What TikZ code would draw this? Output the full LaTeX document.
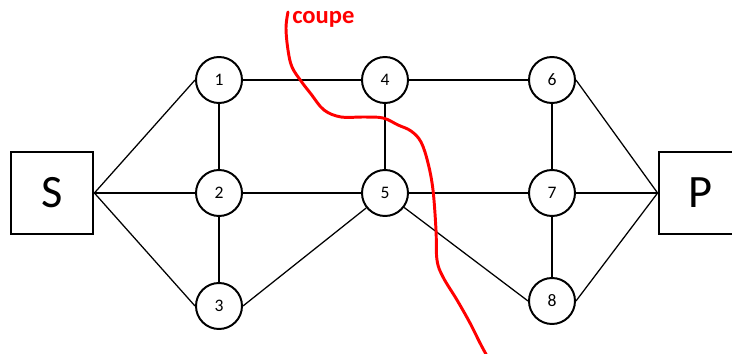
\documentclass[tikz,border=0pt]{standalone}
\usepackage{fontspec}
\setmainfont{Carlito}
\usepackage{tikz}
\usetikzlibrary{positioning,calc}
\definecolor{cutred}{RGB}{255,0,0}

\begin{document}
\begin{tikzpicture}[
    x=0.025cm, y=-0.025cm,
    vertex/.style={circle, draw=black, line width=1.4pt, fill=white,
        minimum size=1.15cm, inner sep=0pt, font=\fontsize{12.5}{14}\selectfont},
    terminal/.style={rectangle, draw=black, line width=1.4pt, fill=white,
        minimum width=2.07cm, minimum height=2.07cm, inner sep=0pt,
        font=\fontsize{33}{36}\selectfont},
    edge/.style={line width=0.9pt, draw=black},
    cutline/.style={line width=2.1pt, draw=cutred, line cap=round, line join=round}
]
    \useasboundingbox (0,0) rectangle (732,354);
    \clip (0,0) rectangle (732,354);

    % Source and sink
    \node[terminal] (S) at (52,193) {S};
    \node[terminal] (P) at (700,193) {P};

    % Inner vertices
    \node[vertex] (n1) at (219,80) {1};
    \node[vertex] (n2) at (219,193) {2};
    \node[vertex] (n3) at (219,306) {3};
    \node[vertex] (n4) at (385,80) {4};
    \node[vertex] (n5) at (385,193) {5};
    \node[vertex] (n6) at (552,80) {6};
    \node[vertex] (n7) at (552,193) {7};
    \node[vertex] (n8) at (552,301) {8};

    % Edges
    \draw[edge] (S.east) -- (n1.west);
    \draw[edge] (S.east) -- (n2.west);
    \draw[edge] (S.east) -- (n3.west);
    \draw[edge] (n1) -- (n2);
    \draw[edge] (n2) -- (n3);
    \draw[edge] (n1) -- (n4);
    \draw[edge] (n2) -- (n5);
    \draw[edge] (n3.east) -- (n5);
    \draw[edge] (n4) -- (n5);
    \draw[edge] (n4) -- (n6);
    \draw[edge] (n5) -- (n7);
    \draw[edge] (n5) -- (n8.west);
    \draw[edge] (n6) -- (n7);
    \draw[edge] (n7) -- (n8);
    \draw[edge] (n6.east) -- (P.west);
    \draw[edge] (n7.east) -- (P.west);
    \draw[edge] (n8.east) -- (P.west);

    % Cut
    \node[anchor=base west, inner sep=0pt, text=cutred,
        font=\fontsize{17.5}{19}\selectfont\bfseries] (cut) at (292,24) {coupe};
    \draw[cutline] plot[smooth, tension=0.6] coordinates {
        (288,12) (286,28) (288,50) (292,67) (301,81) (311,94) (324,110)
        (341,117) (363,117) (383,118) (398,125) (411,131) (421,142)
        (428,163) (433,190) (436,230) (437,260) (443,277) (457,300)
        (470,323) (480,343) (487,356)};
\end{tikzpicture}
\end{document}
